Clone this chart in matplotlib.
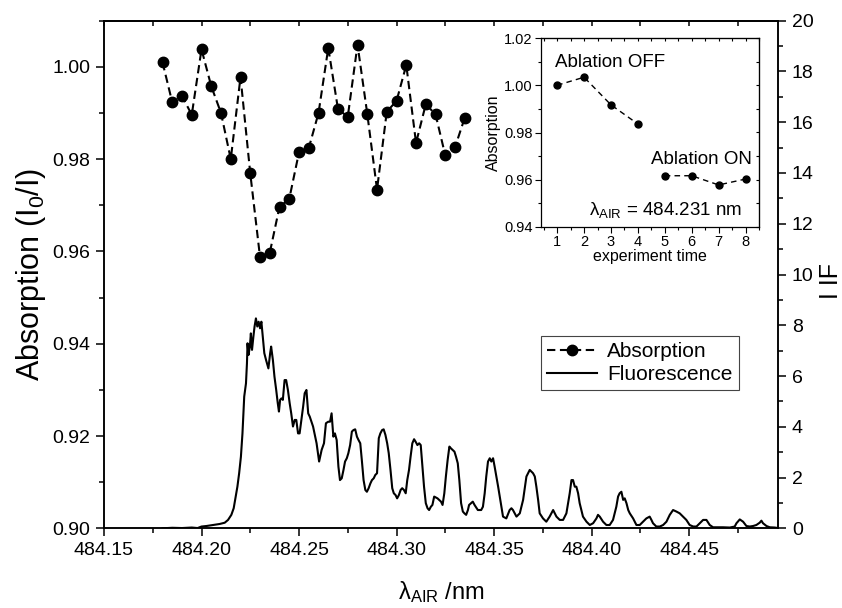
import numpy as np
import matplotlib
matplotlib.use("Agg")
import matplotlib.pyplot as plt
from matplotlib.ticker import MultipleLocator, FormatStrFormatter

plt.rcParams['font.family'] = ['Liberation Sans', 'DejaVu Sans']
plt.rcParams['mathtext.fontset'] = 'custom'
plt.rcParams['mathtext.rm'] = 'Liberation Sans'
plt.rcParams['mathtext.it'] = 'Liberation Sans:italic'
plt.rcParams['mathtext.bf'] = 'Liberation Sans:bold'

# absorption scan (left axis)
abs_wl = [484.180, 484.185, 484.190, 484.195, 484.200, 484.205, 484.210, 484.215,
          484.220, 484.225, 484.230, 484.235, 484.240, 484.245, 484.250, 484.255,
          484.260, 484.265, 484.270, 484.275, 484.280, 484.285, 484.290, 484.295,
          484.300, 484.305, 484.310, 484.315, 484.320, 484.325, 484.330, 484.335]
abs_val = [1.0010, 0.9923, 0.9937, 0.9896, 1.0038, 0.9958, 0.9900, 0.9800,
           0.9978, 0.9769, 0.9588, 0.9597, 0.9697, 0.9714, 0.9815, 0.9824,
           0.9900, 1.0041, 0.9908, 0.9892, 1.0048, 0.9898, 0.9734, 0.9903,
           0.9926, 1.0004, 0.9835, 0.9919, 0.9897, 0.9808, 0.9826, 0.9890]

# fluorescence trace (right axis)
fl_wl = [484.1800, 484.1850, 484.1900, 484.1950, 484.1980, 484.2000, 484.2025, 484.2059,
         484.2093, 484.2119, 484.2136, 484.2153, 484.2165, 484.2175, 484.2184, 484.2193,
         484.2202, 484.2210, 484.2219, 484.2228, 484.2233, 484.2236, 484.2241, 484.2248,
         484.2253, 484.2259, 484.2266, 484.2272, 484.2279, 484.2286, 484.2293, 484.2300,
         484.2307, 484.2314, 484.2322, 484.2331, 484.2343, 484.2352, 484.2357, 484.2366,
         484.2374, 484.2383, 484.2391, 484.2397, 484.2403, 484.2410, 484.2417, 484.2426,
         484.2434, 484.2443, 484.2452, 484.2460, 484.2469, 484.2478, 484.2486, 484.2495,
         484.2503, 484.2512, 484.2521, 484.2529, 484.2538, 484.2547, 484.2555, 484.2572,
         484.2590, 484.2603, 484.2616, 484.2628, 484.2638, 484.2650, 484.2659, 484.2667,
         484.2676, 484.2684, 484.2693, 484.2702, 484.2710, 484.2719, 484.2728, 484.2736,
         484.2745, 484.2753, 484.2762, 484.2771, 484.2779, 484.2788, 484.2797, 484.2805,
         484.2814, 484.2822, 484.2831, 484.2840, 484.2848, 484.2857, 484.2866, 484.2874,
         484.2883, 484.2891, 484.2900, 484.2909, 484.2917, 484.2926, 484.2934, 484.2943,
         484.2952, 484.2960, 484.2969, 484.2978, 484.2986, 484.2995, 484.3003, 484.3012,
         484.3021, 484.3029, 484.3038, 484.3047, 484.3055, 484.3064, 484.3072, 484.3081,
         484.3090, 484.3098, 484.3107, 484.3116, 484.3124, 484.3133, 484.3141, 484.3150,
         484.3159, 484.3167, 484.3176, 484.3184, 484.3193, 484.3210, 484.3228, 484.3236,
         484.3245, 484.3253, 484.3262, 484.3271, 484.3279, 484.3297, 484.3305, 484.3314,
         484.3322, 484.3331, 484.3340, 484.3348, 484.3357, 484.3366, 484.3372, 484.3391,
         484.3400, 484.3417, 484.3434, 484.3443, 484.3452, 484.3460, 484.3469, 484.3478,
         484.3486, 484.3495, 484.3503, 484.3521, 484.3538, 484.3546, 484.3563, 484.3580,
         484.3589, 484.3597, 484.3615, 484.3632, 484.3649, 484.3666, 484.3683, 484.3700,
         484.3709, 484.3717, 484.3726, 484.3734, 484.3751, 484.3768, 484.3785, 484.3803,
         484.3820, 484.3837, 484.3854, 484.3871, 484.3888, 484.3897, 484.3905, 484.3914,
         484.3922, 484.3931, 484.3939, 484.3956, 484.3974, 484.3991, 484.4008, 484.4025,
         484.4033, 484.4042, 484.4059, 484.4076, 484.4093, 484.4110, 484.4127, 484.4136,
         484.4144, 484.4153, 484.4162, 484.4170, 484.4179, 484.4188, 484.4196, 484.4213,
         484.4230, 484.4247, 484.4264, 484.4281, 484.4298, 484.4307, 484.4315, 484.4332,
         484.4350, 484.4367, 484.4384, 484.4401, 484.4418, 484.4435, 484.4452, 484.4469,
         484.4486, 484.4503, 484.4521, 484.4538, 484.4555, 484.4572, 484.4589, 484.4606,
         484.4623, 484.4674, 484.4709, 484.4734, 484.4743, 484.4760, 484.4777, 484.4794,
         484.4811, 484.4828, 484.4845, 484.4862, 484.4871, 484.4879, 484.4897, 484.4914,
         484.4939, 484.4956]
fl_val = [0.00, 0.02, 0.01, 0.03, 0.01, 0.07, 0.09, 0.13,
          0.17, 0.22, 0.33, 0.53, 0.79, 1.25, 1.64, 2.17,
          2.82, 3.74, 5.19, 5.71, 6.50, 7.29, 6.83, 7.16,
          7.68, 7.03, 7.55, 7.95, 8.27, 7.95, 8.14, 7.88,
          8.14, 7.55, 6.90, 6.63, 6.30, 6.90, 7.16, 6.63,
          5.98, 5.45, 4.93, 4.60, 5.06, 5.12, 5.06, 5.84,
          5.84, 5.45, 4.93, 4.53, 4.01, 4.27, 4.27, 3.74,
          3.74, 4.27, 4.79, 5.32, 5.45, 4.53, 4.40, 4.01,
          3.35, 2.63, 3.09, 3.35, 4.14, 4.20, 4.20, 4.53,
          3.61, 3.74, 3.48, 2.43, 1.90, 1.97, 2.30, 2.63,
          2.76, 2.96, 3.28, 3.81, 3.87, 3.90, 3.61, 3.48,
          3.35, 2.69, 1.90, 1.51, 1.44, 1.58, 1.77, 1.90,
          1.97, 2.10, 2.17, 3.55, 3.74, 3.87, 3.90, 3.68,
          3.35, 2.96, 2.30, 1.58, 1.38, 1.31, 1.18, 1.31,
          1.51, 1.58, 1.51, 1.38, 1.90, 2.30, 2.82, 3.35,
          3.51, 3.41, 3.28, 3.35, 3.28, 2.43, 1.64, 0.99,
          0.79, 0.72, 0.85, 0.92, 1.25, 1.18, 1.05, 0.92,
          1.38, 2.04, 2.69, 3.22, 3.15, 3.02, 2.82, 2.56,
          1.90, 0.99, 0.66, 0.59, 0.53, 0.72, 0.92, 1.05,
          0.92, 0.72, 0.72, 0.85, 1.38, 2.04, 2.63, 2.76,
          2.63, 2.76, 2.43, 1.64, 0.85, 0.46, 0.39, 0.72,
          0.79, 0.72, 0.46, 0.59, 1.12, 2.04, 2.30, 2.17,
          2.04, 1.64, 1.12, 0.59, 0.39, 0.26, 0.46, 0.72,
          0.46, 0.33, 0.33, 0.59, 1.38, 1.90, 1.90, 1.64,
          1.64, 1.38, 0.99, 0.46, 0.26, 0.13, 0.20, 0.39,
          0.53, 0.46, 0.26, 0.13, 0.13, 0.33, 0.85, 1.25,
          1.38, 1.44, 1.12, 1.18, 0.99, 0.72, 0.59, 0.39,
          0.13, 0.13, 0.26, 0.39, 0.46, 0.33, 0.20, 0.07,
          0.07, 0.13, 0.26, 0.53, 0.72, 0.66, 0.59, 0.46,
          0.33, 0.13, 0.07, 0.07, 0.20, 0.33, 0.33, 0.13,
          0.04, 0.04, 0.03, 0.07, 0.20, 0.35, 0.26, 0.09,
          0.07, 0.09, 0.13, 0.22, 0.30, 0.20, 0.09, 0.04,
          0.03, 0.01]

# inset: absorption at 484.231 nm per experiment
off_run = [1, 2, 3, 4]
off_abs = [1.0000, 1.0034, 0.9917, 0.9836]
on_run = [5, 6, 7, 8]
on_abs = [0.9617, 0.9617, 0.9578, 0.9603]

W, H = 842, 608
fig = plt.figure(figsize=(W / 100, H / 100), dpi=100)
ax = fig.add_axes([104 / W, 1 - 528.3 / H, (778 - 104) / W, (528.3 - 20.7) / H])
ax2 = ax.twinx()

lw_sp = 1.1
for a in (ax, ax2):
    for s in a.spines.values():
        s.set_linewidth(lw_sp)

l_abs, = ax.plot(abs_wl, abs_val, color='black', lw=1.5, ls=(0, (4, 2.2)),
                 marker='o', ms=7.5, label='Absorption', zorder=3)
l_fl, = ax2.plot(fl_wl, fl_val, color='black', lw=1.5, label='Fluorescence')

ax.set_xlim(484.15, 484.4956)
ax.set_ylim(0.90, 1.01)
ax2.set_ylim(0, 20)

ax.xaxis.set_major_locator(MultipleLocator(0.05))
ax.xaxis.set_minor_locator(MultipleLocator(0.025))
ax.xaxis.set_major_formatter(FormatStrFormatter('%.2f'))
ax.yaxis.set_major_locator(MultipleLocator(0.02))
ax.yaxis.set_minor_locator(MultipleLocator(0.01))
ax.yaxis.set_major_formatter(FormatStrFormatter('%.2f'))
ax2.yaxis.set_major_locator(MultipleLocator(2))
ax2.yaxis.set_minor_locator(MultipleLocator(1))

ax.tick_params(which='major', direction='out', length=6, width=lw_sp, labelsize=14, pad=4)
ax.tick_params(which='minor', direction='out', length=3.5, width=lw_sp)
ax2.tick_params(which='major', direction='out', length=6, width=lw_sp, labelsize=14, pad=4)
ax2.tick_params(which='minor', direction='out', length=3.5, width=lw_sp)

top = ax.secondary_xaxis('top')
top.xaxis.set_major_locator(MultipleLocator(0.025))
top.tick_params(direction='in', length=3.5, width=lw_sp, labeltop=False)
top.spines['top'].set_linewidth(lw_sp)

ax.set_xlabel('λ$_{\\mathrm{AIR}}$ /nm', fontsize=17, labelpad=14)
ax.set_ylabel('Absorption (I$_0$/I)', fontsize=22, labelpad=3)
fig.text(831 / W, 1 - 281 / H, 'I IF', rotation=90, fontsize=18, ha='center', va='center')

leg = ax.legend(handles=[l_abs, l_fl], loc='upper left',
                bbox_to_anchor=(540.7 / W, 1 - 335.7 / H), bbox_transform=fig.transFigure,
                borderaxespad=0, fontsize=15, fancybox=False, framealpha=1,
                edgecolor='#444444', handlelength=2.4, handletextpad=0.5,
                labelspacing=0.2, borderpad=0.3)
leg.get_frame().set_linewidth(0.8)

# inset
axi = fig.add_axes([541 / W, 1 - 227 / H, (759 - 541) / W, (227 - 38) / H])
axi.plot(off_run, off_abs, color='black', lw=1.0, ls=(0, (4, 3)), marker='o', ms=5)
axi.plot(on_run, on_abs, color='black', lw=1.0, ls=(0, (4, 3)), marker='o', ms=5)
axi.set_xlim(0.4, 8.5)
axi.set_ylim(0.94, 1.02)
axi.xaxis.set_major_locator(MultipleLocator(1))
axi.xaxis.set_minor_locator(MultipleLocator(0.5))
axi.yaxis.set_major_locator(MultipleLocator(0.02))
axi.yaxis.set_minor_locator(MultipleLocator(0.01))
axi.yaxis.set_major_formatter(FormatStrFormatter('%.2f'))
axi.tick_params(which='both', direction='out', width=0.8, labelsize=10.5, pad=2)
axi.tick_params(which='major', length=4)
axi.tick_params(which='minor', length=2.5)
for s in axi.spines.values():
    s.set_linewidth(0.9)

# mirrored ticks on the inset's top and right, pointing in
itop = axi.secondary_xaxis('top')
itop.xaxis.set_major_locator(MultipleLocator(0.5))
itop.tick_params(direction='in', length=2.5, width=0.8, labeltop=False)
iright = axi.secondary_yaxis('right')
iright.yaxis.set_major_locator(MultipleLocator(0.01))
iright.tick_params(direction='in', length=2.5, width=0.8, labelright=False)

axi.set_xlabel('experiment time', fontsize=11.5, labelpad=0)
axi.set_ylabel('Absorption', fontsize=11.5, labelpad=2)
axi.text(0.93, 1.0096, 'Ablation OFF', fontsize=13.5, va='center', ha='left')
axi.text(4.5, 0.9685, 'Ablation ON', fontsize=13.5, va='center', ha='left')
axi.text(2.17, 0.9451, 'λ$_{\\mathrm{AIR}}$ = 484.231 nm', fontsize=13.5, va='baseline', ha='left')

fig.savefig('out.png', dpi=100)
